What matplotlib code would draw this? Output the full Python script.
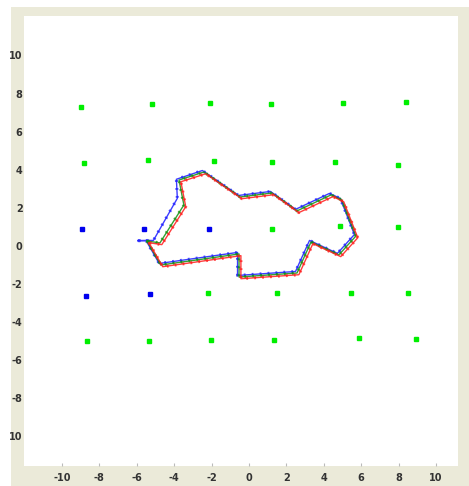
import matplotlib
matplotlib.use("Agg")
import matplotlib.pyplot as plt
from matplotlib.patches import Rectangle

# puntos de la rejilla (verdes y azules)
verdes_x = [-9.0, -5.17, -2.09, 1.19, 5.03, 8.38,
            -8.81, -5.40, -1.89, 1.25, 4.60, 7.98,
            1.23, 4.85, 7.97,
            -2.21, 1.48, 5.44, 8.52,
            -8.68, -5.36, -2.03, 1.32, 5.90, 8.91]
verdes_y = [7.30, 7.45, 7.49, 7.45, 7.49, 7.54,
            4.34, 4.51, 4.46, 4.39, 4.39, 4.27,
            0.91, 1.05, 0.98,
            -2.48, -2.45, -2.48, -2.45,
            -5.00, -5.00, -4.95, -4.95, -4.81, -4.87]
azules_x = [-8.93, -5.63, -2.12, -8.72, -5.31]
azules_y = [0.91, 0.91, 0.91, -2.61, -2.54]

# contornos (tres versiones del mismo poligono)
contorno_azul_x = [-5.94, -5.50, -4.80, -0.61, -0.61, 2.49, 3.24, 4.73, 5.64, 4.89,
                   4.31, 2.49, 1.15, -0.56, -2.49, -3.88, -3.83, -5.11, -5.94]
contorno_azul_y = [0.28, 0.28, -0.92, -0.34, -1.55, -1.34, 0.29, -0.39, 0.60, 2.49,
                   2.76, 1.92, 2.86, 2.65, 3.96, 3.50, 2.50, 0.29, 0.28]
contorno_verde_x = [-5.45, -4.71, -0.53, -0.53, 2.57, 3.32, 4.81, 5.72, 4.97, 4.39,
                    2.57, 1.23, -0.48, -2.41, -3.74, -3.48, -4.76, -5.45]
contorno_verde_y = [0.26, -1.00, -0.42, -1.63, -1.42, 0.21, -0.47, 0.52, 2.41, 2.68,
                    1.84, 2.78, 2.57, 3.88, 3.46, 2.15, 0.16, 0.26]
contorno_rojo_x = [-5.35, -4.61, -0.43, -0.43, 2.67, 3.42, 4.91, 5.82, 5.07, 4.49,
                   2.67, 1.33, -0.38, -2.31, -3.64, -3.38, -4.66, -5.35]
contorno_rojo_y = [0.17, -1.09, -0.51, -1.72, -1.51, 0.12, -0.56, 0.43, 2.32, 2.59,
                   1.75, 2.69, 2.48, 3.79, 3.37, 2.06, 0.07, 0.17]

ticks = [-10, -8, -6, -4, -2, 0, 2, 4, 6, 8, 10]
etiquetas_x = ["-10", "-8", "-6", "-4", "-2", "0", "2", "4", "6", "8", "10"]
etiquetas_y = ["10", "-8", "-6", "-4", "-2", "0", "2", "4", "6", "8", "10"]

beige = "#ebead9"

fig = plt.figure(figsize=(4.69, 4.86), dpi=100)
fig.patch.set_facecolor("white")
# marco beige de la ventana
fig.patches.append(Rectangle((11 / 469, 0), 1, 479 / 486, transform=fig.transFigure,
                             facecolor=beige, edgecolor="none", zorder=0))

ax = fig.add_axes([24 / 469, 20 / 486, 434 / 469, 450 / 486])
ax.set_zorder(2)
ax.set_facecolor("white")
ax.set_xlim(-12.03, 11.18)
ax.set_ylim(-11.55, 12.07)

# contornos: linea fina y puntitos encima
for cx, cy, col in [(contorno_azul_x, contorno_azul_y, "#1a1aff"),
                    (contorno_verde_x, contorno_verde_y, "#109010"),
                    (contorno_rojo_x, contorno_rojo_y, "#ff1a1a")]:
    ax.plot(cx, cy, color=col, lw=1.0, alpha=0.85, zorder=2)
    ax.plot(cx, cy, color=col, lw=2.2, linestyle=(0, (0.6, 2.0)), alpha=0.75, zorder=2)

ax.plot(verdes_x, verdes_y, "s", color="#00ee00", markersize=2.8, mec="#00ee00", zorder=3)
ax.plot(azules_x, azules_y, "s", color="#0000ee", markersize=2.8, mec="#0000ee", zorder=3)

for s in ax.spines.values():
    s.set_visible(False)

ax.set_xticks(ticks)
ax.set_xticklabels(etiquetas_x)
ax.set_yticks(ticks)
ax.set_yticklabels(etiquetas_y)
ax.tick_params(axis="x", direction="in", length=2, width=0.8, color="#bbbbbb",
               pad=5, labelsize=7, labelcolor="#333333")
ax.tick_params(axis="y", length=0, pad=1, labelsize=7, labelcolor="#333333")
for t in ax.get_xticklabels() + ax.get_yticklabels():
    t.set_fontweight("bold")

plt.savefig("out.png", dpi=100)
plt.close()
